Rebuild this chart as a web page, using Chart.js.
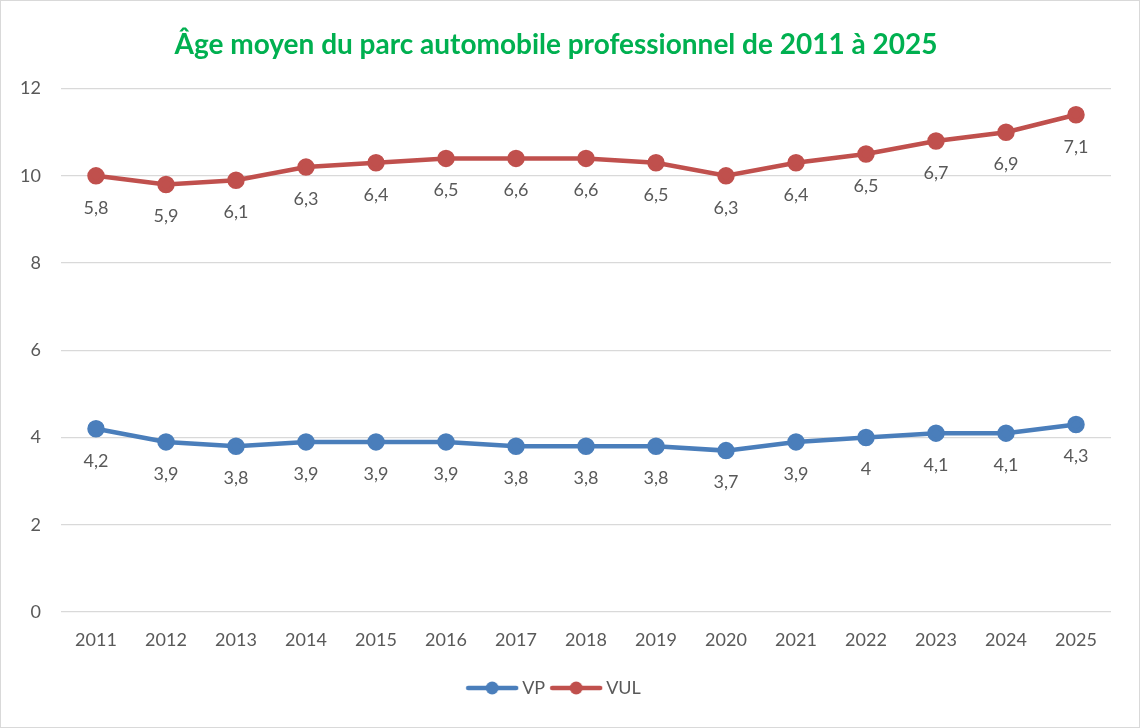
<!DOCTYPE html>
<html>
<head>
<meta charset="utf-8">
<script src="https://cdn.jsdelivr.net/npm/chart.js@4"></script>
<style>
  html, body { margin: 0; padding: 0; background: #fff; }
  #wrap { width: 1138px; height: 726px; border: 1px solid #d9d9d9; }
</style>
</head>
<body>
<div id="wrap"><canvas id="myChart" width="1138" height="726"></canvas></div>
<script>
var years = ["2011", "2012", "2013", "2014", "2015", "2016", "2017", "2018", "2019", "2020", "2021", "2022", "2023", "2024", "2025"];
var vp = [4.2, 3.9, 3.8, 3.9, 3.9, 3.9, 3.8, 3.8, 3.8, 3.7, 3.9, 4, 4.1, 4.1, 4.3];
var vul = [5.8, 5.9, 6.1, 6.3, 6.4, 6.5, 6.6, 6.6, 6.5, 6.3, 6.4, 6.5, 6.7, 6.9, 7.1];
var yTicks = [0, 2, 4, 6, 8, 10, 12];

var FONT = "Lato, 'Open Sans', sans-serif";
var GREY = "#595959";

// legend symbol: line with a dot in the middle
function legendIcon(color) {
  var c = document.createElement("canvas");
  c.width = 54;
  c.height = 16;
  var g = c.getContext("2d");
  g.strokeStyle = color;
  g.lineWidth = 4.5;
  g.lineCap = "round";
  g.beginPath();
  g.moveTo(3, 8);
  g.lineTo(51, 8);
  g.stroke();
  g.fillStyle = color;
  g.beginPath();
  g.arc(27, 8, 6.5, 0, Math.PI * 2);
  g.fill();
  return c;
}

// values written under each point
var pointLabels = {
  id: "pointLabels",
  afterDatasetsDraw: function (chart) {
    var ctx = chart.ctx;
    ctx.save();
    ctx.font = "18px " + FONT;
    ctx.fillStyle = GREY;
    ctx.textAlign = "center";
    ctx.textBaseline = "middle";
    chart.data.datasets.forEach(function (ds, i) {
      chart.getDatasetMeta(i).data.forEach(function (pt, j) {
        ctx.fillText(String(ds.data[j]).replace(".", ","), pt.x, pt.y + 32);
      });
    });
    ctx.restore();
  }
};

var ctx = document.getElementById("myChart").getContext("2d");
var chart = new Chart(ctx, {
  type: "line",
  data: {
    labels: years,
    datasets: [
      {
        label: "VP",
        data: vp,
        borderColor: "#4a7ebb",
        backgroundColor: "#4a7ebb",
        borderWidth: 4.5,
        pointRadius: 6.5,
        pointHoverRadius: 6.5,
        pointStyle: "circle",
        fill: false,
        tension: 0
      },
      {
        label: "VUL",
        data: vul,
        borderColor: "#c0504d",
        backgroundColor: "#c0504d",
        borderWidth: 4.5,
        pointRadius: 6.5,
        pointHoverRadius: 6.5,
        pointStyle: "circle",
        fill: false,
        tension: 0
      }
    ]
  },
  options: {
    responsive: false,
    animation: false,
    layout: { padding: { left: 0, right: 28, top: 0, bottom: 20 } },
    scales: {
      x: {
        offset: true,
        grid: { display: false },
        border: { display: false },
        ticks: { color: GREY, font: { family: FONT, size: 18 }, padding: 9 },
        afterFit: function (s) { s.height = 57; }
      },
      y: {
        stacked: true,
        min: 0,
        max: 12,
        afterBuildTicks: function (s) { s.ticks = yTicks.map(function (v) { return { value: v }; }); },
        grid: { color: "#d9d9d9", lineWidth: 1.3, drawTicks: false },
        border: { display: false },
        ticks: { color: GREY, font: { family: FONT, size: 18 }, padding: 20 },
        afterFit: function (s) { s.width = 60; }
      }
    },
    plugins: {
      title: {
        display: true,
        text: "Âge moyen du parc automobile professionnel de 2011 à 2025",
        color: "#00b050",
        font: { family: FONT, size: 28, weight: "bold" },
        padding: { top: 27, bottom: 27 }
      },
      legend: {
        position: "bottom",
        labels: {
          color: GREY,
          font: { family: FONT, size: 18 },
          usePointStyle: true,
          pointStyleWidth: 42,
          padding: 10,
          generateLabels: function (c) {
            return c.data.datasets.map(function (ds, i) {
              return {
                text: ds.label,
                fontColor: GREY,
                pointStyle: legendIcon(ds.borderColor),
                datasetIndex: i,
                lineWidth: 0,
                strokeStyle: "transparent",
                fillStyle: ds.borderColor
              };
            });
          }
        }
      },
      tooltip: { enabled: false }
    }
  },
  plugins: [pointLabels]
});
</script>
</body>
</html>
